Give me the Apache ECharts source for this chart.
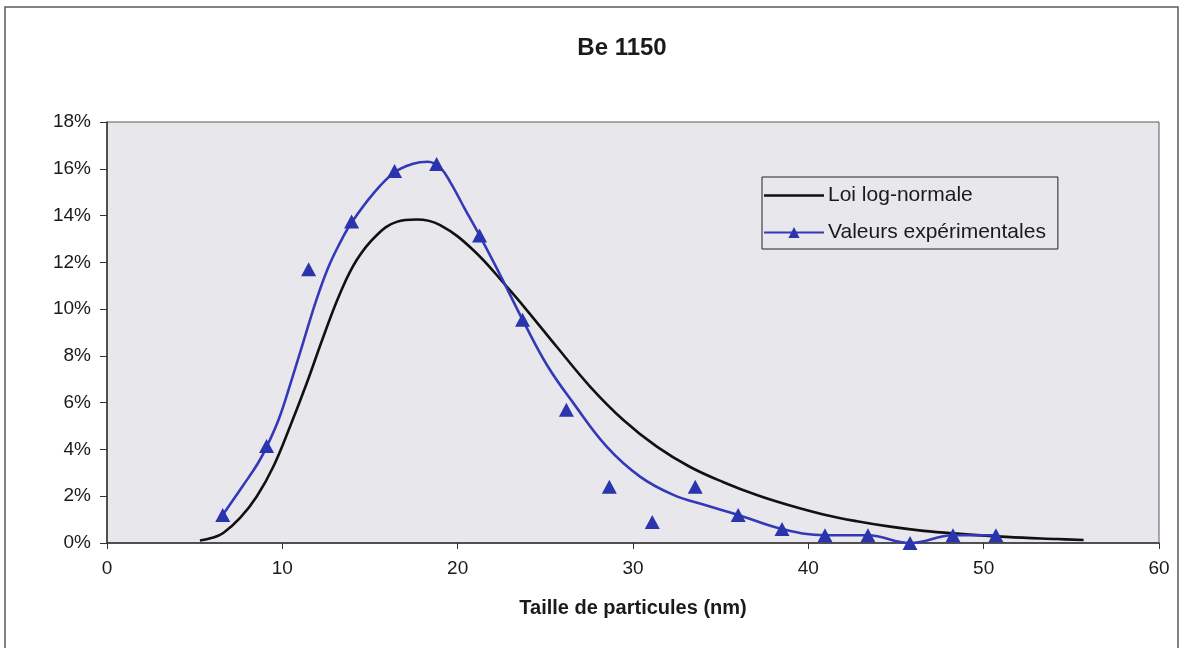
<!DOCTYPE html>
<html>
<head>
<meta charset="utf-8">
<script src="https://cdn.jsdelivr.net/npm/echarts@6/dist/echarts.min.js"></script>
<style>
  html, body { margin: 0; padding: 0; background: #ffffff; }
  #chart { width: 1183px; height: 648px; }
</style>
</head>
<body>
<div id="chart"></div>
<script>
// ---- Data ----
const chartTitle = 'Be 1150';
const xAxisTitle = 'Taille de particules (nm)';
const seriesNames = ['Loi log-normale', 'Valeurs expérimentales'];

// Experimental values (triangles): particle size (nm) and share (%)
const expSize = [6.6, 9.1, 11.5, 13.95, 16.4, 18.8, 21.25, 23.7, 26.2, 28.65, 31.1, 33.55, 36.0, 38.5, 40.95, 43.4, 45.8, 48.25, 50.7];
const expPct  = [1.2, 4.15, 11.7, 13.75, 15.9, 16.2, 13.15, 9.55, 5.7, 2.4, 0.9, 2.4, 1.2, 0.6, 0.33, 0.33, 0.0, 0.33, 0.33];

// Smoothed experimental curve (blue line)
const expCurveSize = [6.6, 7.8, 8.6, 9.1, 9.8, 10.5, 11.2, 11.9, 12.6, 13.3, 13.95, 15.2, 16.4, 17.4, 18.3, 19.0, 19.6, 20.4, 21.25, 22.5, 23.7, 25.1, 26.6, 28.5, 30.4, 32.3, 34.2, 36.0, 38.5, 40.95, 43.4, 45.8, 48.25, 50.7];
const expCurvePct  = [1.2, 2.5, 3.4, 4.1, 5.3, 6.9, 8.6, 10.3, 11.75, 12.85, 13.7, 14.95, 15.85, 16.2, 16.3, 16.05, 15.4, 14.3, 13.15, 11.35, 9.55, 7.6, 5.98, 4.12, 2.84, 2.06, 1.6, 1.2, 0.6, 0.33, 0.33, 0.0, 0.33, 0.33];

// Log-normal law (black line)
const logSize = [5.3, 6.0, 6.63, 7.59, 8.54, 9.49, 10.44, 11.39, 12.34, 13.29, 14.24, 15.38, 16.52, 17.67, 19.0, 20.9, 22.8, 23.94, 25.65, 27.55, 29.45, 31.36, 33.26, 35.16, 37.06, 38.96, 40.86, 42.77, 44.67, 46.57, 48.47, 51.3, 54.17, 55.7];
const logPct  = [0.11, 0.22, 0.43, 1.07, 1.99, 3.27, 4.98, 6.83, 8.82, 10.67, 12.1, 13.16, 13.73, 13.83, 13.59, 12.52, 10.96, 9.96, 8.39, 6.69, 5.26, 4.12, 3.25, 2.6, 2.05, 1.6, 1.22, 0.93, 0.7, 0.52, 0.4, 0.26, 0.17, 0.13];

// Axis ticks
const xTicks = [0, 10, 20, 30, 40, 50, 60];
const yTicks = [0, 2, 4, 6, 8, 10, 12, 14, 16, 18];

// ---- Chart ----
const zip = (xs, ys) => xs.map((x, i) => [x, ys[i]]);
const FONT = '"Liberation Sans", Arial, sans-serif';
const BLUE = '#3539b8';
const BLUE_MARK = '#2a35ad';

const chart = echarts.init(document.getElementById('chart'), null, { renderer: 'canvas' });
chart.setOption({
  backgroundColor: '#ffffff',
  animation: false,
  textStyle: { fontFamily: FONT },
  graphic: [{
    type: 'rect',
    shape: { x: 5, y: 7, width: 1173, height: 700 },
    style: { fill: 'none', stroke: '#5a5a5a', lineWidth: 1.5 },
    silent: true, z: -10
  }],
  title: {
    text: chartTitle,
    left: 617, top: 31, textAlign: 'center',
    textStyle: { fontFamily: FONT, fontSize: 24, fontWeight: 'bold', color: '#1a1a1a' }
  },
  legend: {
    orient: 'vertical',
    left: 762, top: 177,
    padding: [8, 12, 6, 1],
    itemWidth: 60, itemHeight: 14, itemGap: 16,
    borderColor: '#222', borderWidth: 1,
    backgroundColor: 'transparent',
    textStyle: { fontFamily: FONT, fontSize: 21, color: '#1a1a1a', padding: [0, 0, 0, -1] },
    data: [
      { name: seriesNames[0], icon: 'path://M0,0H60V2.6H0Z' },
      { name: seriesNames[1] }
    ]
  },
  grid: {
    left: 107, right: 24, top: 122, bottom: 105,
    show: true, backgroundColor: '#e7e7ec', borderColor: '#5a5a5a', borderWidth: 1
  },
  xAxis: {
    type: 'value', min: xTicks[0], max: xTicks[xTicks.length - 1], interval: 10,
    name: xAxisTitle, nameLocation: 'middle', nameGap: 55,
    nameTextStyle: { fontFamily: FONT, fontSize: 20, fontWeight: 'bold', color: '#1a1a1a' },
    axisLine: { lineStyle: { color: '#333', width: 1.5 } },
    axisTick: { length: 6, lineStyle: { color: '#333' } },
    axisLabel: { margin: 16, fontSize: 19, color: '#1a1a1a', fontFamily: FONT },
    splitLine: { show: false }
  },
  yAxis: {
    type: 'value', min: yTicks[0], max: yTicks[yTicks.length - 1], interval: 2,
    axisLine: { show: true, lineStyle: { color: '#333', width: 1.5 } },
    axisTick: { show: true, length: 7, lineStyle: { color: '#333' } },
    axisLabel: { margin: 16, fontSize: 19, color: '#1a1a1a', fontFamily: FONT, formatter: v => v + '%' },
    splitLine: { show: false }
  },
  series: [
    {
      name: seriesNames[0], type: 'line', data: zip(logSize, logPct),
      smooth: 0.4, symbol: 'none', showSymbol: false,
      lineStyle: { color: '#111', width: 2.6 }, itemStyle: { color: '#111' }, z: 3
    },
    {
      name: seriesNames[1], type: 'line', data: zip(expCurveSize, expCurvePct),
      smooth: 0.4, symbol: 'triangle', symbolSize: 13, showSymbol: false,
      lineStyle: { color: BLUE, width: 2.6 }, itemStyle: { color: BLUE_MARK }, z: 4
    },
    {
      name: seriesNames[1], type: 'scatter', data: zip(expSize, expPct),
      symbol: 'triangle', symbolSize: [15, 14],
      itemStyle: { color: BLUE_MARK, opacity: 1 }, z: 5
    }
  ]
});
</script>
</body>
</html>
